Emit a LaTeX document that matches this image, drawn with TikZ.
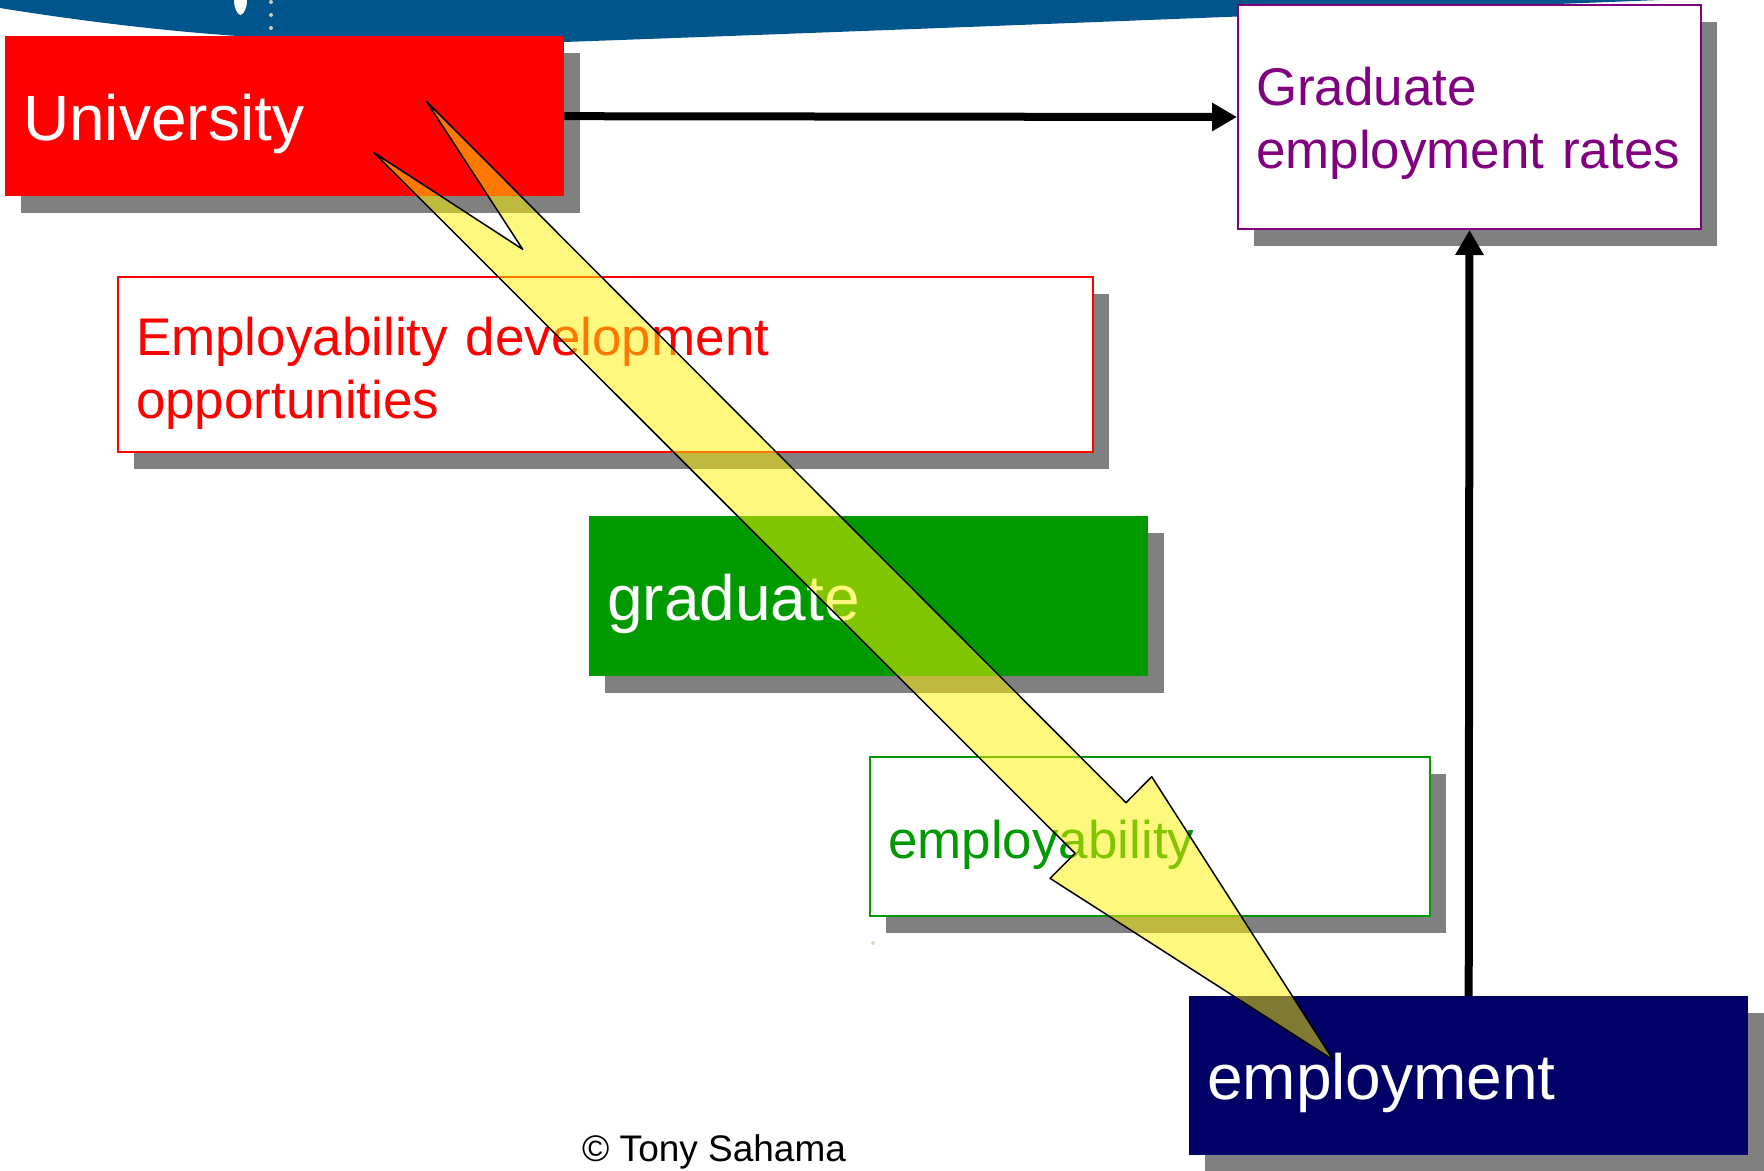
\documentclass[tikz,border=0pt]{standalone}
\usepackage{fontspec}
\setmainfont{Liberation Sans}
\usetikzlibrary{arrows.meta,shadows}
\definecolor{banner}{RGB}{0,85,140}
\definecolor{ured}{RGB}{255,0,0}
\definecolor{ugreen}{RGB}{0,153,0}
\definecolor{unavy}{RGB}{0,0,102}
\definecolor{upurple}{RGB}{128,0,128}
\definecolor{ushadow}{RGB}{128,128,128}
\definecolor{udot}{RGB}{215,200,170}
\begin{document}
\begin{tikzpicture}[x=1pt,y=-1pt,
  box/.style={rectangle, anchor=north west, inner xsep=18pt, inner ysep=0pt, align=left,
    drop shadow={shadow xshift=16pt, shadow yshift=-17pt, fill=ushadow, opacity=1}},
  filledbox/.style={box, minimum width=559pt, minimum height=160pt, text width=523pt,
    text=white, font=\fontsize{64}{77}\selectfont, text height=56pt, text depth=8pt},
  framebox/.style={box, fill=white, line width=2pt},
  midtext/.style={font=\fontsize{53}{63}\selectfont},
  link/.style={line width=8pt, -{Triangle[length=25pt,width=27pt]}},
  bolt/.style={line width=1.5pt, draw=black, fill=yellow, fill opacity=0.5, line join=round}
]
\useasboundingbox (0,0) rectangle (1764,1170);
% banner
\fill[banner] (0,0) -- (0,8) .. controls (200,40) and (350,46) .. (564,42) .. controls (900,30) and (1300,14) .. (1660,0) -- cycle;
\fill[white] (234,0) .. controls (234,8) and (237,14) .. (240.5,15) .. controls (244,14) and (247,8) .. (247,0) -- cycle;
\foreach \yy in {2,15,28} \fill[udot] (271,\yy) circle (2);
\fill[udot!70] (873,943) circle (2);

% boxes
\node[filledbox, fill=ured] (uni) at (5,36) {University};
\node[framebox, draw=upurple, text=upurple, midtext, minimum width=463pt, minimum height=224pt,
  text width=427pt, text height=40pt, text depth=64pt] (ger) at (1237,4)
  {Graduate\\employment~rates};
\node[framebox, draw=ured, text=ured, midtext, minimum width=975pt, minimum height=175pt,
  text width=939pt, text height=40pt, text depth=59pt] (edo) at (117,276)
  {Employability development\\opportunities};
\node[filledbox, fill=ugreen] (grad) at (589,516) {graduate};
\node[framebox, draw=ugreen, text=ugreen, midtext, minimum width=560pt, minimum height=159pt,
  text width=524pt, text height=48pt, text depth=5pt] (empl) at (869,756) {employability};
\node[filledbox, fill=unavy, minimum height=159pt] (emp) at (1189,996) {employment};

% connectors
\draw[link] (uni.east) -- (ger.west);
\draw[link] (emp.north) -- (ger.south);

% copyright
\node[font=\fontsize{37}{44}\selectfont, anchor=base west, inner sep=0pt] (copy) at (582,1161) {© Tony Sahama};

% lightning arrow
\draw[bolt] (426.7,101.7) -- (1126,802.7) -- (1151.7,776.7) -- (1333.3,1060) -- (1050,878.3)
  -- (1075,853.3) -- (374,152.7) -- (522.7,249.3) -- cycle;
\end{tikzpicture}
\end{document}
